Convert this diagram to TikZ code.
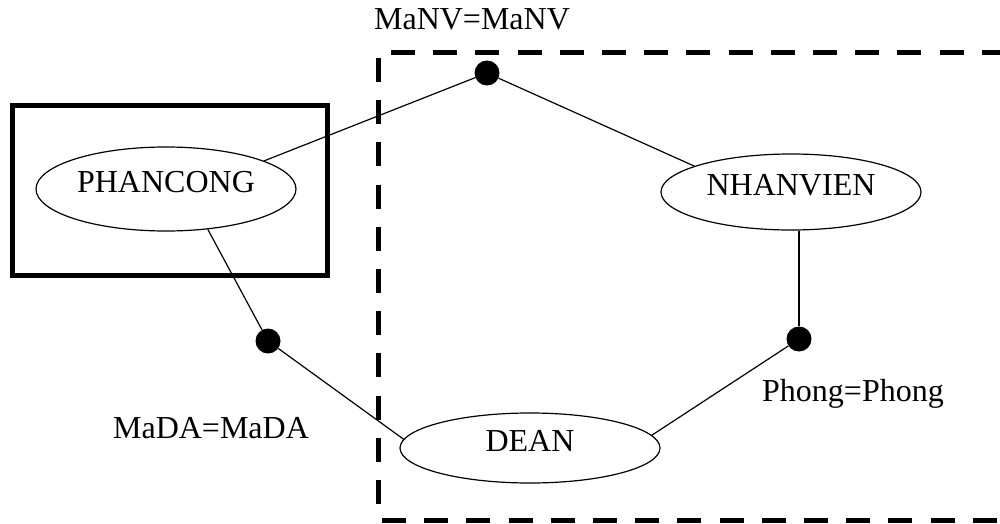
\documentclass[tikz,border=0pt]{standalone}
\usepackage{fontspec}
\setmainfont{Liberation Serif}
\usetikzlibrary{shapes.geometric}
\begin{document}
\begin{tikzpicture}[x=1pt,y=-1pt,
  ent/.style={ellipse,draw,line width=1.2pt,minimum width=260pt,inner sep=0pt,text depth=14pt,font=\fontsize{32}{38}\selectfont},
  joint/.style={circle,fill=black,inner sep=0pt,minimum size=25pt},
  lbl/.style={font=\fontsize{32}{38}\selectfont,inner sep=0pt},
  conn/.style={line width=1.2pt},
  frame/.style={line width=5pt},
  dframe/.style={line width=5pt,dash pattern=on 24pt off 18.2pt}]
\clip (0,0) rectangle (1000,524);
\fill[white] (0,0) rectangle (1000,524);
% frames
\draw[frame] (12.5,105.5) rectangle (327.5,275.5);
\coordinate (dtl) at (391,53);
\coordinate (dtr) at (1040,53);
\coordinate (dlt) at (378,58);
\coordinate (dlb) at (378,520);
\coordinate (dbl) at (382,520);
\coordinate (dbr) at (1040,520);
\draw[dframe] (dtl) -- (dtr);
\draw[dframe] (dlt) -- (dlb);
\draw[dframe] (dbl) -- (dbr);
% entities
\node[ent,minimum height=84pt] (phancong) at (166,189) {PHANCONG};
\node[ent,minimum height=76pt] (nhanvien) at (791,192) {NHANVIEN};
\node[ent,minimum height=70pt] (dean) at (530,448) {DEAN};
% joints
\node[joint] (jnv) at (487,73) {};
\node[joint] (jda) at (268,341) {};
\node[joint] (jph) at (799,339) {};
% labels
\node[lbl] (lnv) at (472,19) {MaNV=MaNV};
\node[lbl] (lda) at (211,428) {MaDA=MaDA};
\node[lbl] (lph) at (853,394) {Phong=Phong};
% connectors
\draw[conn] (phancong.16) -- (jnv);
\draw[conn] (jnv) -- (nhanvien.165);
\draw[conn] (jph) -- (jph |- nhanvien.south);
\draw[conn] (jph) -- (dean.6);
\draw[conn] (jda) -- (dean.176);
\draw[conn] (phancong.316) -- (jda);
\end{tikzpicture}
\end{document}
